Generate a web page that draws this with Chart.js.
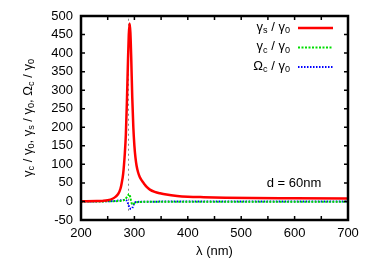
<!DOCTYPE html>
<html>
<head>
<meta charset="utf-8">
<script src="https://cdn.jsdelivr.net/npm/chart.js@4/dist/chart.umd.min.js"></script>
<style>
  html, body { margin: 0; padding: 0; background: #fff; }
  #wrap { width: 374px; height: 262px; }
</style>
</head>
<body>
<div id="wrap"><canvas id="chart" width="374" height="262"></canvas></div>
<script>
// --- data ---
const lambdaS = [200, 230, 240, 250, 260, 265, 270, 274, 276, 279, 282, 284, 286, 288, 289.5, 291, 292.5, 294, 296, 298, 300, 302, 304, 307, 310, 314, 318, 323, 329, 338, 348, 360, 380, 400, 430, 470, 520, 600, 700];
const gammaS  = [0.5, 1, 1.5, 3, 8, 13, 21, 35, 48, 75, 128, 180, 270, 380, 450, 480, 455, 390, 280, 200, 150, 118, 97, 78, 66, 56, 48, 39, 32, 26, 22, 18.5, 15, 13, 11.5, 10, 9, 8.5, 8];

const lambdaC = [200, 260, 275, 282, 285, 288, 290, 292, 294, 296, 298, 301, 305, 310, 320, 340, 400, 700];
const gammaC  = [0, 0.5, 2, 5, 10, 16, 20, 13, 0, -8, -7, -4, -2, -1.5, -1, -1, -1, -0.8];
const omegaC  = [0, 1, 3, 4, 3, -5, -14, -19, -20, -18, -10, -3, -1.5, -1, -0.8, -0.5, 0, 0];

const resonanceLambda = [289, 289];
const resonanceRange  = [-25, 500];

const yTicks = { min: -50, max: 500, step: 50 };
const xTicks = { min: 200, max: 700, step: 50, labelStep: 100 };

const legendItems = [
  { parts: [['γ', 0], ['s', 1], [' / γ', 0], ['0', 1]], color: '#ff0000', dash: [], width: 2.5 },
  { parts: [['γ', 0], ['c', 1], [' / γ', 0], ['0', 1]], color: '#00dd00', dash: [2, 1.5], width: 2 },
  { parts: [['Ω', 0], ['c', 1], [' / γ', 0], ['0', 1]], color: '#0000ff', dash: [1.5, 1.5], width: 2 }
];
const yTitleParts = [['γ', 0], ['c', 1], [' / γ', 0], ['0', 1], [', γ', 0], ['s', 1], [' / γ', 0], ['0', 1], [', Ω', 0], ['c', 1], [' / γ', 0], ['0', 1]];

const FONT = '"Liberation Sans", Arial, sans-serif';

function toPoints(xs, ys) {
  return xs.map(function (x, i) { return { x: x, y: ys[i] }; });
}

// text with subscripts, drawn segment by segment
function partsWidth(ctx, parts, size) {
  let w = 0;
  parts.forEach(function (p) {
    ctx.font = (p[1] ? size * 0.7 : size) + 'px ' + FONT;
    w += ctx.measureText(p[0]).width;
  });
  return w;
}
function drawParts(ctx, parts, x, y, size) {
  ctx.textBaseline = 'middle';
  ctx.textAlign = 'left';
  parts.forEach(function (p) {
    ctx.font = (p[1] ? size * 0.7 : size) + 'px ' + FONT;
    ctx.fillText(p[0], x, p[1] ? y + size * 0.3 : y);
    x += ctx.measureText(p[0]).width;
  });
}

const framePlugin = {
  id: 'frame',
  afterDraw: function (chart) {
    const ctx = chart.ctx;
    const a = chart.chartArea;
    const xs = chart.scales.x, ys = chart.scales.y;
    ctx.save();
    ctx.fillStyle = '#000';
    ctx.strokeStyle = '#000';

    // inward ticks on all four sides
    ctx.lineWidth = 1.5;
    ctx.beginPath();
    for (let v = xTicks.min + xTicks.step; v < xTicks.max; v += xTicks.step) {
      const px = xs.getPixelForValue(v);
      ctx.moveTo(px, a.bottom); ctx.lineTo(px, a.bottom - 4);
      ctx.moveTo(px, a.top); ctx.lineTo(px, a.top + 4);
    }
    for (let v = yTicks.min + yTicks.step; v < yTicks.max; v += yTicks.step) {
      const py = ys.getPixelForValue(v);
      ctx.moveTo(a.left, py); ctx.lineTo(a.left + 4, py);
      ctx.moveTo(a.right, py); ctx.lineTo(a.right - 4, py);
    }
    ctx.stroke();

    // thick border
    ctx.lineWidth = 2.5;
    ctx.strokeRect(a.left, a.top, a.right - a.left, a.bottom - a.top);

    // legend
    legendItems.forEach(function (it, i) {
      const y = a.top + 12 + i * 19.5;
      const w = partsWidth(ctx, it.parts, 13);
      ctx.fillStyle = '#000';
      drawParts(ctx, it.parts, 290 - w, y - 1, 13);
      ctx.beginPath();
      ctx.strokeStyle = it.color;
      ctx.lineWidth = it.width;
      ctx.setLineDash(it.dash);
      ctx.moveTo(298, y); ctx.lineTo(333, y);
      ctx.stroke();
    });
    ctx.setLineDash([]);

    // annotation
    ctx.fillStyle = '#000';
    ctx.font = '13px ' + FONT;
    ctx.textAlign = 'center';
    ctx.textBaseline = 'middle';
    ctx.fillText('d = 60nm', 294, 183);

    // x title
    ctx.fillText('λ (nm)', (a.left + a.right) / 2, 251);

    // y title (rotated)
    ctx.save();
    ctx.translate(28, (a.top + a.bottom) / 2);
    ctx.rotate(-Math.PI / 2);
    const tw = partsWidth(ctx, yTitleParts, 13);
    drawParts(ctx, yTitleParts, -tw / 2, 0, 13);
    ctx.restore();

    ctx.restore();
  }
};

new Chart(document.getElementById('chart').getContext('2d'), {
  type: 'line',
  data: {
    datasets: [{
      label: 'γs / γ0',
      data: toPoints(lambdaS, gammaS),
      borderColor: '#ff0000',
      borderWidth: 2.5,
      cubicInterpolationMode: 'monotone',
      order: 1
    }, {
      label: 'γc / γ0',
      data: toPoints(lambdaC, gammaC),
      borderColor: '#00dd00',
      borderWidth: 2,
      borderDash: [2, 1.5],
      cubicInterpolationMode: 'monotone',
      order: 2
    }, {
      label: 'Ωc / γ0',
      data: toPoints(lambdaC, omegaC),
      borderColor: '#0000ff',
      borderWidth: 2,
      borderDash: [1.5, 1.5],
      cubicInterpolationMode: 'monotone',
      order: 3
    }, {
      label: 'resonance',
      data: toPoints(resonanceLambda, resonanceRange),
      borderColor: '#888888',
      borderWidth: 1,
      borderDash: [2, 3],
      order: 10
    }]
  },
  options: {
    responsive: false,
    animation: false,
    layout: { padding: { top: 16, right: 26, left: 0, bottom: 0 } },
    elements: { point: { radius: 0 } },
    plugins: {
      legend: { display: false },
      tooltip: { enabled: false }
    },
    scales: {
      x: {
        type: 'linear',
        min: xTicks.min,
        max: xTicks.max,
        grid: { display: false, drawTicks: false },
        border: { display: false },
        afterFit: function (s) { s.height = 42; },
        ticks: {
          stepSize: xTicks.step,
          autoSkip: false,
          maxRotation: 0,
          padding: 6,
          color: '#000',
          font: { family: FONT, size: 13 },
          callback: function (v) { return v % xTicks.labelStep === 0 ? v : ''; }
        }
      },
      y: {
        min: yTicks.min,
        max: yTicks.max,
        grid: { display: false, drawTicks: false },
        border: { display: false },
        afterFit: function (s) { s.width = 81; },
        ticks: {
          stepSize: yTicks.step,
          autoSkip: false,
          padding: 8,
          color: '#000',
          font: { family: FONT, size: 13 }
        }
      }
    }
  },
  plugins: [framePlugin]
});
</script>
</body>
</html>
